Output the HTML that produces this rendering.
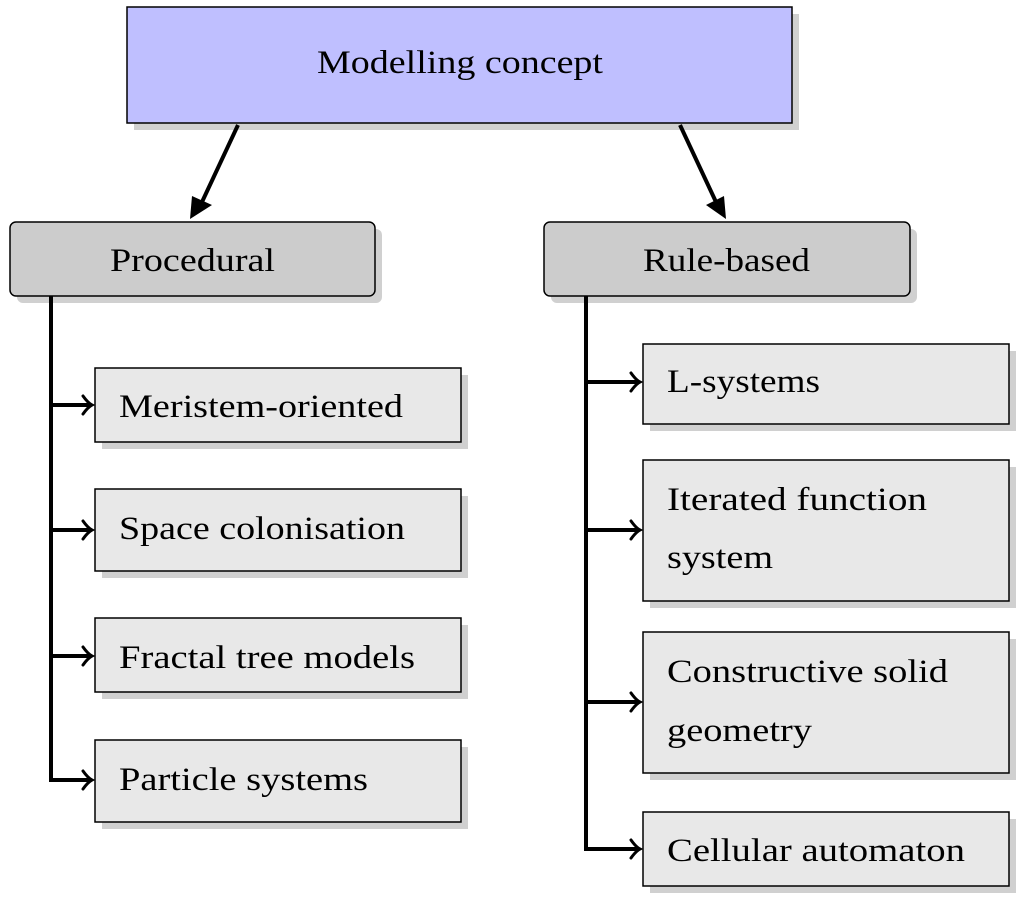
<!DOCTYPE html>
<html><head><style>body{margin:0;background:#fff}svg{display:block}text{font-family:"Liberation Serif",serif;font-size:33px;fill:#000}</style></head>
<body>
<svg width="1020" height="897" xmlns="http://www.w3.org/2000/svg">
<g fill="#d0d0d0">
<rect x="134" y="14" width="665" height="116"/>
<rect x="17" y="229" width="365" height="74" rx="6"/>
<rect x="551" y="229" width="366" height="74" rx="6"/>
<rect x="102" y="375" width="366" height="74"/>
<rect x="102" y="496" width="366" height="82"/>
<rect x="102" y="625" width="366" height="74"/>
<rect x="102" y="747" width="366" height="82"/>
<rect x="650" y="351" width="366" height="80"/>
<rect x="650" y="467" width="366" height="141"/>
<rect x="650" y="639" width="366" height="141"/>
<rect x="650" y="819" width="366" height="74"/>
</g>
<g stroke="#000" stroke-width="1.5">
<rect x="127" y="7" width="665" height="116" fill="#bfbfff"/>
<rect x="10" y="222" width="365" height="74" rx="6" fill="#cccccc"/>
<rect x="544" y="222" width="366" height="74" rx="6" fill="#cccccc"/>
<g fill="#e8e8e8">
<rect x="95" y="368" width="366" height="74"/>
<rect x="95" y="489" width="366" height="82"/>
<rect x="95" y="618" width="366" height="74"/>
<rect x="95" y="740" width="366" height="82"/>
<rect x="643" y="344" width="366" height="80"/>
<rect x="643" y="460" width="366" height="141"/>
<rect x="643" y="632" width="366" height="141"/>
<rect x="643" y="812" width="366" height="74"/>
</g>
</g>
<g stroke="#000" stroke-width="4" fill="none">
<line x1="238" y1="125" x2="202" y2="202"/>
<line x1="680" y1="125" x2="716" y2="202"/>
<polyline points="51,296 51,780 90,780"/>
<line x1="51" y1="405" x2="90" y2="405"/>
<line x1="51" y1="530" x2="90" y2="530"/>
<line x1="51" y1="656" x2="90" y2="656"/>
<polyline points="586,296 586,849 638,849"/>
<line x1="586" y1="382" x2="638" y2="382"/>
<line x1="586" y1="530" x2="638" y2="530"/>
<line x1="586" y1="702" x2="638" y2="702"/>
<g stroke-width="3" stroke-linecap="round">
<path d="M83,396 Q88,403 92,405 Q88,407 83,414"/>
<path d="M83,521 Q88,528 92,530 Q88,532 83,539"/>
<path d="M83,647 Q88,654 92,656 Q88,658 83,665"/>
<path d="M83,771 Q88,778 92,780 Q88,782 83,789"/>
<path d="M631,373 Q636,380 640,382 Q636,384 631,391"/>
<path d="M631,521 Q636,528 640,530 Q636,532 631,539"/>
<path d="M631,693 Q636,700 640,702 Q636,704 631,711"/>
<path d="M631,840 Q636,847 640,849 Q636,851 631,858"/>
</g>
</g>
<polygon points="190,219 192,196 212,205" fill="#000"/>
<polygon points="726,219 706,205 724,196" fill="#000"/>
<g lengthAdjust="spacingAndGlyphs">
<text x="317" y="73" textLength="286" lengthAdjust="spacingAndGlyphs">Modelling concept</text>
<text x="110" y="271" textLength="165" lengthAdjust="spacingAndGlyphs">Procedural</text>
<text x="643" y="271" textLength="167" lengthAdjust="spacingAndGlyphs">Rule-based</text>
<text x="119" y="417" textLength="284" lengthAdjust="spacingAndGlyphs">Meristem-oriented</text>
<text x="119" y="539" textLength="286" lengthAdjust="spacingAndGlyphs">Space colonisation</text>
<text x="119" y="668" textLength="296" lengthAdjust="spacingAndGlyphs">Fractal tree models</text>
<text x="119" y="790" textLength="249" lengthAdjust="spacingAndGlyphs">Particle systems</text>
<text x="667" y="392" textLength="153" lengthAdjust="spacingAndGlyphs">L-systems</text>
<text x="667" y="510" textLength="260" lengthAdjust="spacingAndGlyphs">Iterated function</text>
<text x="667" y="568" textLength="106" lengthAdjust="spacingAndGlyphs">system</text>
<text x="667" y="682" textLength="281" lengthAdjust="spacingAndGlyphs">Constructive solid</text>
<text x="667" y="741" textLength="145" lengthAdjust="spacingAndGlyphs">geometry</text>
<text x="667" y="861" textLength="298" lengthAdjust="spacingAndGlyphs">Cellular automaton</text>
</g>
</svg>
</body></html>
